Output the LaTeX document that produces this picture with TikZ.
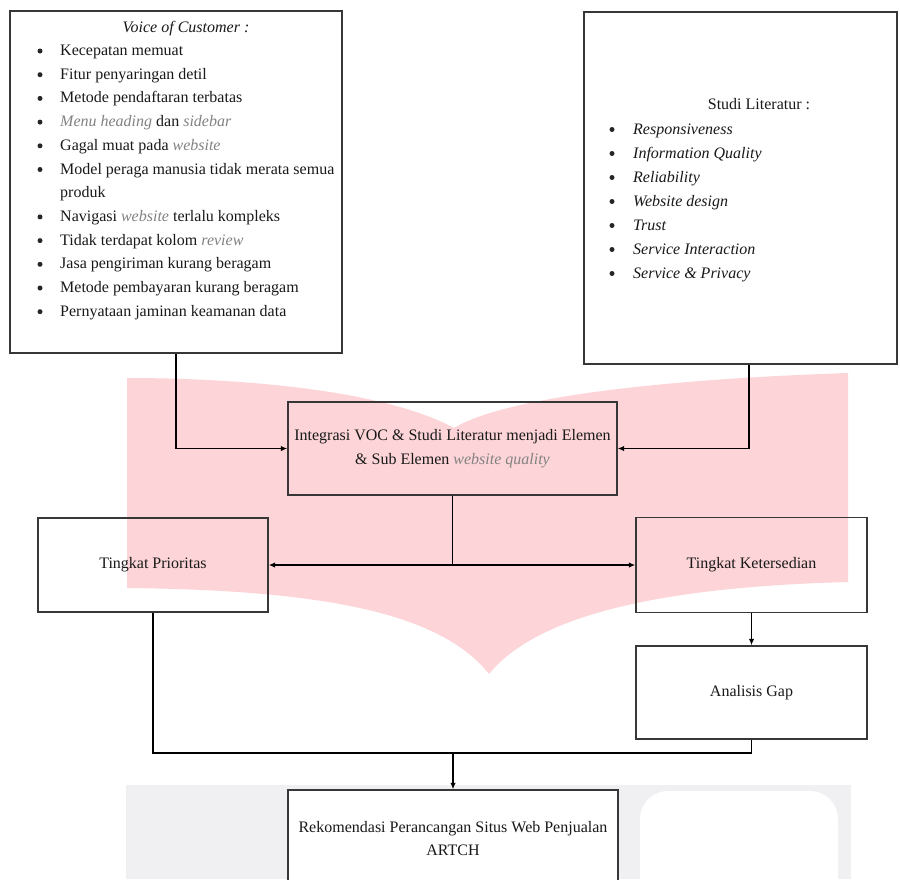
\documentclass[tikz,border=0pt]{standalone}
\usepackage{fontspec}
\setmainfont{Liberation Serif}
\usetikzlibrary{arrows.meta}
\definecolor{wmpink}{RGB}{253,212,215}
\definecolor{wmgrey}{RGB}{240,240,242}
\definecolor{boxline}{RGB}{55,55,55}
\definecolor{softgrey}{RGB}{130,130,130}
\newcommand\grit[1]{\textcolor{softgrey}{\textit{#1}}}
\begin{document}
\begin{tikzpicture}[x=1pt,y=-1pt,
  txt/.style={font=\fontsize{16}{23.5}\selectfont, text=black!90, inner sep=0pt},
  box/.style={txt, draw=boxline, line width=1.4pt, align=center},
  item/.style={txt, anchor=base west},
  bul/.style={circle, fill=black!85, inner sep=0pt, minimum size=5pt},
  conn/.style={line width=1.3pt, draw=black},
  arr/.style={conn, -{Latex[length=6.5pt,width=5.5pt]}},
  arrboth/.style={conn, {Latex[length=6.5pt,width=5.5pt]}-{Latex[length=6.5pt,width=5.5pt]}},
]
\clip (0,0) rectangle (900,879);
\fill[white] (0,0) rectangle (900,879);

% watermark
\fill[wmpink] (127,378) .. controls (230,378) and (380,388) .. (454,428)
  .. controls (500,400) and (640,380) .. (848,373) -- (848,582)
  .. controls (700,586) and (545,605) .. (489,674)
  .. controls (440,612) and (320,590) .. (127,588) -- cycle;
\fill[wmgrey] (126,785) rectangle (851,879);
\fill[white,rounded corners=28pt] (640,791) rectangle (838,940);

% boxes
\node[box,minimum width=332pt,minimum height=342pt] (voc) at (176,182) {};
\node[box,minimum width=313pt,minimum height=352pt] (studi) at (740.5,188) {};
\node[box,minimum width=329pt,minimum height=93pt] (integ) at (452.5,448.5)
  {Integrasi VOC \& Studi Literatur menjadi Elemen\\ \& Sub Elemen \grit{website quality}};
\node[box,minimum width=230pt,minimum height=94pt] (prior) at (153,565) {Tingkat Prioritas};
\node[box,minimum width=231pt,minimum height=95pt] (keter) at (751.5,565) {Tingkat Ketersedian};
\node[box,minimum width=231pt,minimum height=93pt] (gap) at (751.5,692.5) {Analisis Gap};
\node[box,fill=white,minimum width=330pt,minimum height=97pt] (rekom) at (453,838.5)
  {Rekomendasi Perancangan Situs Web Penjualan\\ARTCH};

% VOC text
\node[txt,anchor=base] (voct) at (186,32) {\textit{Voice of Customer :}};
\foreach \yy [count=\i] in {55.5,79.2,102.9,126.6,150.3,174.0,221.4,245.1,268.8,292.5,316.2}
  \node[bul] (vb\i) at (40,\yy-4.5) {};
\node[item] (v1) at (60,55.5) {Kecepatan memuat};
\node[item] (v2) at (60,79.2) {Fitur penyaringan detil};
\node[item] (v3) at (60,102.9) {Metode pendaftaran terbatas};
\node[item] (v4) at (60,126.6) {\grit{Menu heading} dan \grit{sidebar}};
\node[item] (v5) at (60,150.3) {Gagal muat pada \grit{website}};
\node[item] (v6) at (60,174.0) {Model peraga manusia tidak merata semua};
\node[item] (v6b) at (60,197.7) {produk};
\node[item] (v7) at (60,221.4) {Navigasi \grit{website} terlalu kompleks};
\node[item] (v8) at (60,245.1) {Tidak terdapat kolom \grit{review}};
\node[item] (v9) at (60,268.8) {Jasa pengiriman kurang beragam};
\node[item] (v10) at (60,292.5) {Metode pembayaran kurang beragam};
\node[item] (v11) at (60,316.2) {Pernyataan jaminan keamanan data};

% Studi text
\node[txt,anchor=base] (stt) at (759,109) {Studi Literatur :};
\foreach \yy [count=\i] in {134,158,182,206,230,254,278}
  \node[bul] (sb\i) at (612,\yy-4.5) {};
\node[item] (s1) at (633,134) {\textit{Responsiveness}};
\node[item] (s2) at (633,158) {\textit{Information Quality}};
\node[item] (s3) at (633,182) {\textit{Reliability}};
\node[item] (s4) at (633,206) {\textit{Website design}};
\node[item] (s5) at (633,230) {\textit{Trust}};
\node[item] (s6) at (633,254) {\textit{Service Interaction}};
\node[item] (s7) at (633,278) {\textit{Service \& Privacy}};

% connectors
\draw[arr] (voc.south) |- (integ.west);
\draw[arr] ([xshift=8.5pt]studi.south) |- (integ.east);
\draw[conn] (integ.south) -- (integ.south |- prior.east);
\draw[arrboth] (prior.east) -- (keter.west);
\draw[arr] (keter.south) -- (gap.north);
\coordinate (join) at (453,753);
\draw[conn] (prior.south) |- (join) -| (gap.south);
\draw[arr] (join) -- (rekom.north);
\end{tikzpicture}
\end{document}
